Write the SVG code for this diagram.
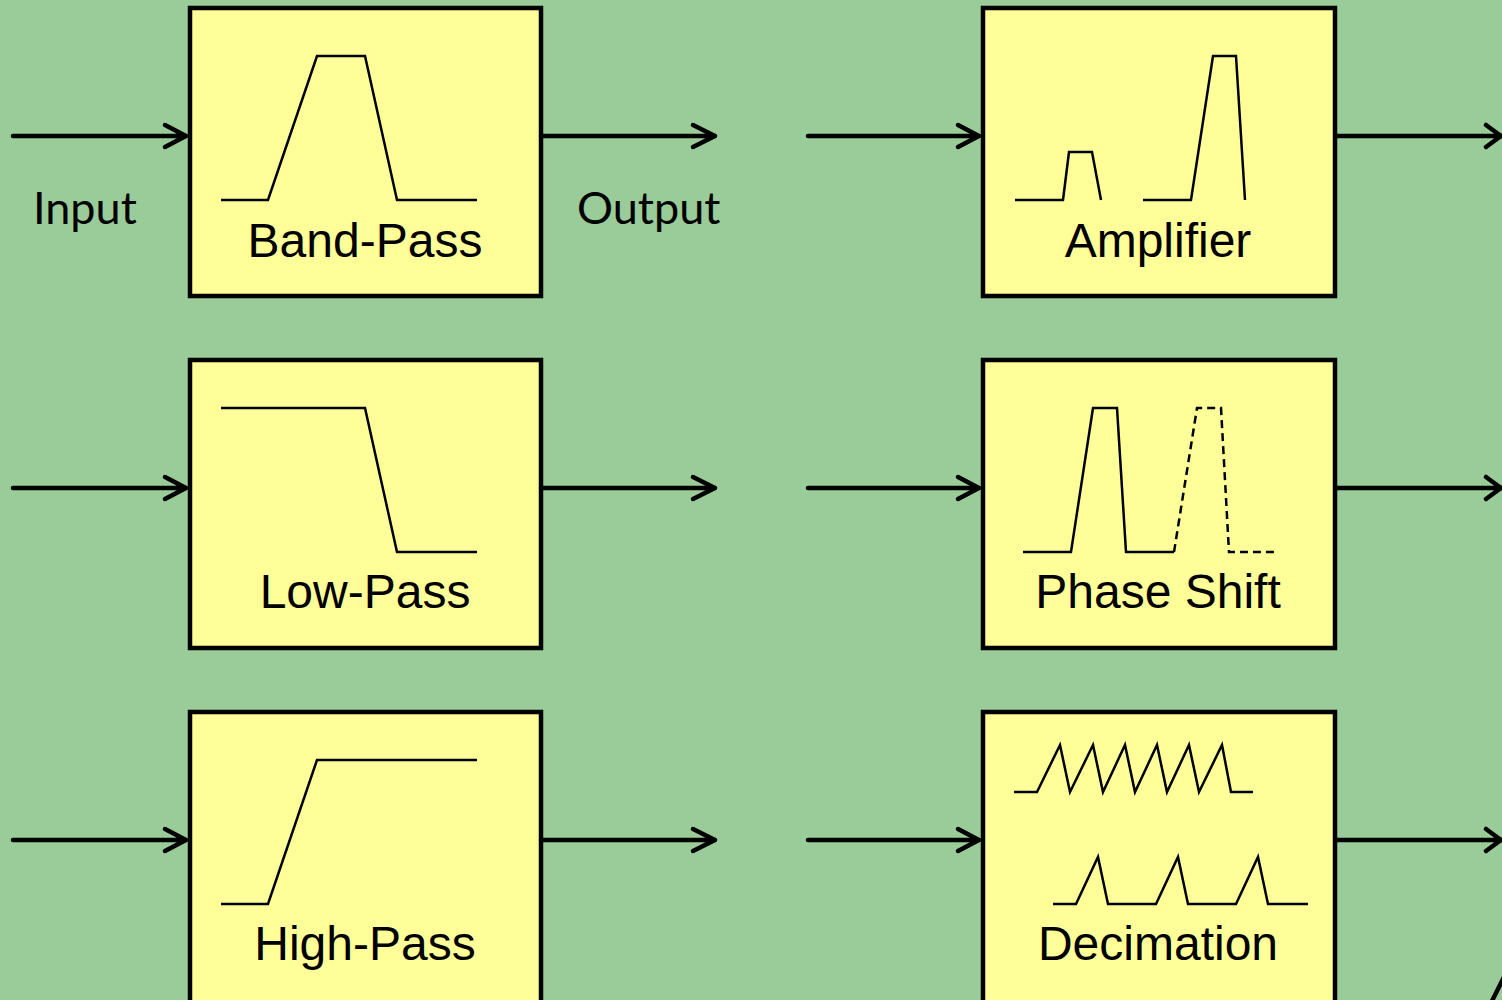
<svg xmlns="http://www.w3.org/2000/svg" width="1502" height="1000" viewBox="0 0 1502 1000">
<style>
.bg{fill:#99CC99}
.box{fill:#FFFF99;stroke:#000;stroke-width:4.5}
.curve{fill:none;stroke:#000;stroke-width:2.5;stroke-linejoin:miter}
.dash{fill:none;stroke:#000;stroke-width:2.5;stroke-dasharray:8 5}
.lbl{font-family:"Liberation Sans",Arial,sans-serif;font-size:48px;fill:#000;text-anchor:middle}
.io{font-family:Lato,"Open Sans",sans-serif;font-size:45px;fill:#000}
.conn{fill:none;stroke:#000;stroke-width:4.5;stroke-linecap:round;stroke-linejoin:round}
</style>
<rect class="bg" x="0" y="0" width="1502" height="1000"/>

<g id="band-pass">
<rect class="box" x="190" y="8" width="351" height="288"/>
<polyline class="curve" points="221,200 268,200 317,56 365,56 397,200 477,200"/>
<text class="lbl" x="365" y="257">Band-Pass</text>
</g>

<g id="low-pass">
<rect class="box" x="190" y="360" width="351" height="288"/>
<polyline class="curve" points="221,408 365,408 397,552 477,552"/>
<text class="lbl" x="365" y="608">Low-Pass</text>
</g>

<g id="high-pass">
<rect class="box" x="190" y="712" width="351" height="300"/>
<polyline class="curve" points="221,904 268,904 317,760 477,760"/>
<text class="lbl" x="365" y="960">High-Pass</text>
</g>

<g id="amplifier">
<rect class="box" x="983" y="8" width="352" height="288"/>
<polyline class="curve" points="1015,200 1063,200 1069,152 1092,152 1101,200"/>
<polyline class="curve" points="1143,200 1191,200 1213,56 1236,56 1245,200"/>
<text class="lbl" x="1158" y="257">Amplifier</text>
</g>

<g id="phase-shift">
<rect class="box" x="983" y="360" width="352" height="288"/>
<polyline class="curve" points="1023,552 1071,552 1093,408 1117,408 1126,552 1174,552"/>
<polyline class="dash" points="1174,552 1197,408 1221,408 1229,552 1277,552"/>
<text class="lbl" x="1158" y="608">Phase Shift</text>
</g>

<g id="decimation">
<rect class="box" x="983" y="712" width="352" height="300"/>
<polyline class="curve" points="1014,792 1037,792 1060,745 1070,792 1093,745 1103,792 1125,745 1135,792 1157,745 1167,792 1189,745 1199,792 1222,745 1231,792 1253,792"/>
<polyline class="curve" points="1053,904 1076,904 1098,857 1108,904 1156,904 1178,857 1188,904 1236,904 1258,857 1268,904 1308,904"/>
<text class="lbl" x="1158" y="960">Decimation</text>
</g>

<g id="connectors">
<path class="conn" d="M13,136 H186 M165,125 L186,136 L165,147"/>
<path class="conn" d="M543,136 H715 M693,125 L715,136 L693,147"/>
<path class="conn" d="M13,488 H186 M165,477 L186,488 L165,499"/>
<path class="conn" d="M543,488 H715 M693,477 L715,488 L693,499"/>
<path class="conn" d="M13,840 H186 M165,829 L186,840 L165,851"/>
<path class="conn" d="M543,840 H715 M693,829 L715,840 L693,851"/>
<path class="conn" d="M808,136 H979 M958,125 L979,136 L958,147"/>
<path class="conn" d="M1337,136 H1501 M1486,125 L1501,136 L1486,147"/>
<path class="conn" d="M808,488 H979 M958,477 L979,488 L958,499"/>
<path class="conn" d="M1337,488 H1501 M1486,477 L1501,488 L1486,499"/>
<path class="conn" d="M808,840 H979 M958,829 L979,840 L958,851"/>
<path class="conn" d="M1337,840 H1501 M1486,829 L1501,840 L1486,851"/>
<path class="conn" d="M1491,1003 L1505,975"/>
<text class="io" x="33" y="224">Input</text>
<text class="io" x="577" y="224">Output</text>
</g>
</svg>
